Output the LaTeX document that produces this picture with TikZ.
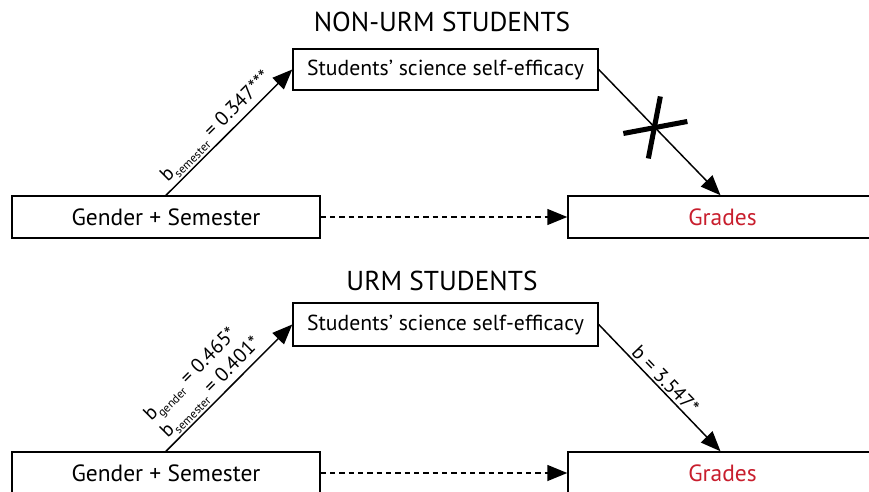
\documentclass[tikz,border=0pt]{standalone}
\usepackage{fontspec}
\setmainfont{PT Sans}
\usetikzlibrary{arrows.meta}
\definecolor{gradered}{RGB}{200,30,45}
\newcommand{\lowidx}[1]{\raisebox{-0.5ex}{\fontsize{9}{9}\selectfont #1}}
\begin{document}
\begin{tikzpicture}[x=0.75pt,y=-0.75pt,
  box/.style={draw, line width=1.1pt, inner sep=0pt, font=\fontsize{16.3}{18}\selectfont},
  wide/.style={font=\fontsize{17.6}{19}\selectfont},
  heading/.style={font=\fontsize{20.5}{22}\selectfont},
  link/.style={line width=1.1pt, -{Triangle[length=15pt,width=12pt]}},
  coef/.style={font=\fontsize{15}{12.5}\selectfont, sloped, above, inner sep=1.5pt, align=left}]
\useasboundingbox (0,0) rectangle (869,492);
% non-URM students
\node[heading] (titleA) at (442,22) {NON-URM STUDENTS};
\node[box, minimum width=228.75pt, minimum height=30.75pt] (effA) at (445.5,69.5) {Students’ science self-efficacy};
\node[box, wide, minimum width=231pt, minimum height=31.5pt] (genderA) at (166,217) {Gender + Semester\hspace{13pt}};
\node[box, wide, minimum width=228.75pt, minimum height=31.5pt, text=gradered] (gradesA) at (720.5,217) {\hspace{3pt}Grades};
\draw[link] (genderA.north) -- node[coef, pos=.47] {b\lowidx{semester} = 0.347***} (effA.west);
\draw[link] (effA.east) -- coordinate[pos=.465] (cross) (gradesA.north);
\draw[link, dashed, dash pattern=on 4pt off 3pt] (genderA) -- (gradesA);
% the cross on the non-significant path
\draw[line width=3.8pt] ([shift={(-32,5.5)}]cross) -- ([shift={(32,-6.5)}]cross);
\draw[line width=3.8pt] ([shift={(5,-31.5)}]cross) -- ([shift={(-7,30.5)}]cross);
% URM students
\node[heading] (titleB) at (442,281) {URM STUDENTS};
\node[box, minimum width=228.75pt, minimum height=32.25pt] (effB) at (445.5,324.5) {Students’ science self-efficacy};
\node[box, wide, minimum width=231pt, minimum height=31.5pt] (genderB) at (166,473) {Gender + Semester\hspace{10pt}};
\node[box, wide, minimum width=228.75pt, minimum height=31.5pt, text=gradered] (gradesB) at (720.5,473) {\hspace{3pt}Grades};
\draw[link] (genderB.north) -- node[coef, pos=.43] {b\lowidx{gender} = 0.465*\\b\lowidx{semester} = 0.401*} (effB.west);
\draw[link] (effB.east) -- node[coef, pos=.49] {b = 3.547*} (gradesB.north);
\draw[link, dashed, dash pattern=on 4pt off 3pt] (genderB) -- (gradesB);
\end{tikzpicture}
\end{document}
